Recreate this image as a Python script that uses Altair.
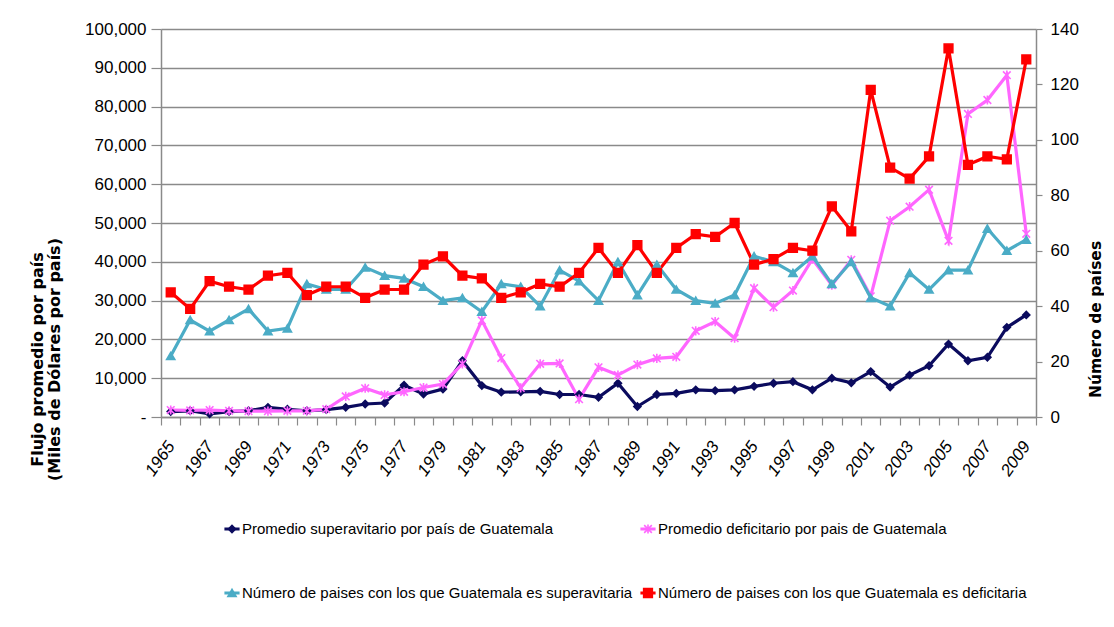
import altair as alt
import pandas as pd

years = [1965, 1966, 1967, 1968, 1969, 1970, 1971, 1972, 1973, 1974,
         1975, 1976, 1977, 1978, 1979, 1980, 1981, 1982, 1983, 1984,
         1985, 1986, 1987, 1988, 1989, 1990, 1991, 1992, 1993, 1994,
         1995, 1996, 1997, 1998, 1999, 2000, 2001, 2002, 2003, 2004,
         2005, 2006, 2007, 2008, 2009]

# Promedio superavitario (miles de US$ por país) - eje izquierdo
sup_avg = [1400, 1600, 800, 1400, 1600, 2500, 2000, 1600, 1900, 2500,
           3350, 3600, 8200, 5900, 7200, 14500, 8100, 6400, 6500, 6600,
           5800, 5800, 5100, 8700, 2700, 5800, 6100, 7000, 6800, 7000,
           7900, 8700, 9100, 7000, 10000, 8800, 11700, 7700, 10800, 13200,
           18800, 14500, 15400, 23100, 26300]

# Promedio deficitario (miles de US$ por país) - eje izquierdo
def_avg = [1800, 1700, 1800, 1600, 1500, 1500, 1600, 1600, 2000, 5300,
           7400, 5700, 6500, 7600, 8500, 13700, 24900, 15200, 7500, 13700,
           13800, 4600, 12800, 10800, 13500, 15100, 15500, 22200, 24600, 20300,
           33200, 28300, 32600, 40700, 34000, 40500, 31100, 50600, 54200, 58600,
           45400, 78100, 81700, 88100, 47200]

# Número de países superavitarios - eje derecho
num_sup = [22, 35, 31, 35, 39, 31, 32, 48, 46, 46,
           54, 51, 50, 47, 42, 43, 38, 48, 47, 40,
           53, 49, 42, 56, 44, 55, 46, 42, 41, 44,
           58, 56, 52, 58, 48, 56, 43, 40, 52, 46,
           53, 53, 68, 60, 64]

# Número de países deficitarios - eje derecho
num_def = [45, 39, 49, 47, 46, 51, 52, 44, 47, 47,
           43, 46, 46, 55, 58, 51, 50, 43, 45, 48,
           47, 52, 61, 52, 62, 52, 61, 66, 65, 70,
           55, 57, 61, 60, 76, 67, 118, 90, 86, 94,
           133, 91, 94, 93, 129]

series_names = [
    "Promedio superavitario por país de Guatemala",
    "Promedio deficitario por pais de Guatemala",
    "Número de paises con los que Guatemala es superavitaria",
    "Número de paises con los que Guatemala es deficitaria",
]
colors = ["#0B0B5E", "#FF66FF", "#4BACC6", "#FF0000"]
star = "M-1,-1L1,1M-1,1L1,-1M0,-1.2L0,1.2"
shapes = ["diamond", star, "triangle-up", "square"]
sizes = [50, 75, 100, 90]

rows = []
for name, vals in zip(series_names, [sup_avg, def_avg, num_sup, num_def]):
    for yr, v in zip(years, vals):
        rows.append({"year": str(yr), "value": v, "series": name})
df = pd.DataFrame(rows)

leg_df = pd.DataFrame({
    "series": series_names,
    "col": [i % 2 for i in range(len(series_names))],
    "row": [i // 2 for i in range(len(series_names))],
})

FONT = "Liberation Sans Narrow, Liberation Sans, Arial"
TFONT = "DejaVu Sans, Verdana"
GRAY = "#8A8A8A"

color_scale = alt.Scale(domain=series_names, range=colors)
shape_scale = alt.Scale(domain=series_names, range=shapes)
size_scale = alt.Scale(domain=series_names, range=sizes)

xenc = alt.X(
    "year:O",
    scale=alt.Scale(type="band", paddingInner=0, paddingOuter=0),
    axis=alt.Axis(
        title=None, tickBand="extent",
        labelExpr="parseInt(datum.value) % 2 == 1 ? datum.label : ''",
        labelAngle=305, labelAlign="right", labelBaseline="middle", labelPadding=18,
        labelFont=FONT, labelFontSize=17, labelColor="#000000", labelFontStyle="italic",
        domainColor=GRAY, domainWidth=1.5, tickColor=GRAY, tickWidth=1.2, tickSize=8,
        labelOverlap=False,
    ),
)

y_left = alt.Y(
    "value:Q",
    scale=alt.Scale(domain=[0, 100000], nice=False),
    axis=alt.Axis(
        values=[0, 10000, 20000, 30000, 40000, 50000, 60000, 70000, 80000, 90000, 100000],
        labelExpr="datum.value == 0 ? '-' : format(datum.value, ',')",
        title=["Flujo promedio por país", "(Miles de Dólares por país)"],
        titleFont=TFONT, titleFontSize=16, titleFontWeight="bold", titleColor="#000000",
        titleAngle=270, titleX=-116, titleY=330, titleLineHeight=17,
        labelFont=FONT, labelFontSize=17, labelColor="#000000", labelPadding=5,
        grid=True, gridColor=GRAY, gridWidth=1.5,
        domainColor=GRAY, domainWidth=1.5, tickColor=GRAY, tickWidth=1.2, tickSize=10,
    ),
)
y_right = alt.Y(
    "value:Q",
    scale=alt.Scale(domain=[0, 140], nice=False),
    axis=alt.Axis(
        orient="right",
        values=[0, 20, 40, 60, 80, 100, 120, 140],
        title="Número de países",
        titleFont=TFONT, titleFontSize=15.5, titleFontWeight="bold", titleColor="#000000",
        titleAngle=270, titleX=67, titleY=290,
        labelFont=FONT, labelFontSize=17, labelColor="#000000", labelPadding=8,
        grid=False,
        domainColor=GRAY, domainWidth=1.5, tickColor=GRAY, tickWidth=1.2, tickSize=6,
    ),
)

base = alt.Chart(df)


def layer_for(names, yenc):
    sub = base.transform_filter(alt.FieldOneOfPredicate(field="series", oneOf=names))
    line = sub.mark_line(strokeWidth=3.2).encode(
        x=xenc, y=yenc, color=alt.Color("series:N", scale=color_scale, legend=None)
    )
    pts = sub.mark_point(filled=True, opacity=1, strokeWidth=1.6).encode(
        x=xenc, y=yenc,
        fill=alt.Fill("series:N", scale=color_scale, legend=None),
        stroke=alt.Stroke("series:N", scale=color_scale, legend=None),
        shape=alt.Shape("series:N", scale=shape_scale, legend=None),
        size=alt.Size("series:N", scale=size_scale, legend=None),
    )
    return alt.layer(line, pts)


main = (
    alt.layer(layer_for(series_names[:2], y_left), layer_for(series_names[2:], y_right))
    .resolve_scale(y="independent")
    .properties(width=875, height=388)
)

# ---- legend (2 x 2 grid, as in the reference) ----
lx = alt.X("col:O", scale=alt.Scale(type="band", paddingInner=0, paddingOuter=0),
           axis=None, bandPosition=0)
ly = alt.Y("row:O", scale=alt.Scale(type="band", paddingInner=0, paddingOuter=0), axis=None)
leg_base = alt.Chart(leg_df).encode(x=lx, y=ly)
leg_line = leg_base.mark_point(shape="M-1,0L1,0", size=230, strokeWidth=3, filled=False,
                               opacity=1, xOffset=71).encode(
    stroke=alt.Stroke("series:N", scale=color_scale, legend=None))
leg_mark = leg_base.mark_point(filled=True, opacity=1, strokeWidth=1.6, xOffset=71).encode(
    fill=alt.Fill("series:N", scale=color_scale, legend=None),
    stroke=alt.Stroke("series:N", scale=color_scale, legend=None),
    shape=alt.Shape("series:N", scale=shape_scale, legend=None),
    size=alt.Size("series:N", scale=size_scale, legend=None),
)
leg_text = leg_base.mark_text(align="left", baseline="middle", xOffset=81, font=FONT,
                              fontSize=15, color="#000000").encode(text="series:N")
legend = alt.layer(leg_line, leg_mark, leg_text).properties(width=832, height=128)

chart = (
    alt.vconcat(main, legend, spacing=80, bounds="flush")
    .properties(
        padding={"left": 21, "top": 12, "right": 0, "bottom": 5},
        background="white",
    )
    .configure_view(strokeWidth=0)
)

chart.save("out.html", embed_options={"renderer": "svg", "actions": False})
